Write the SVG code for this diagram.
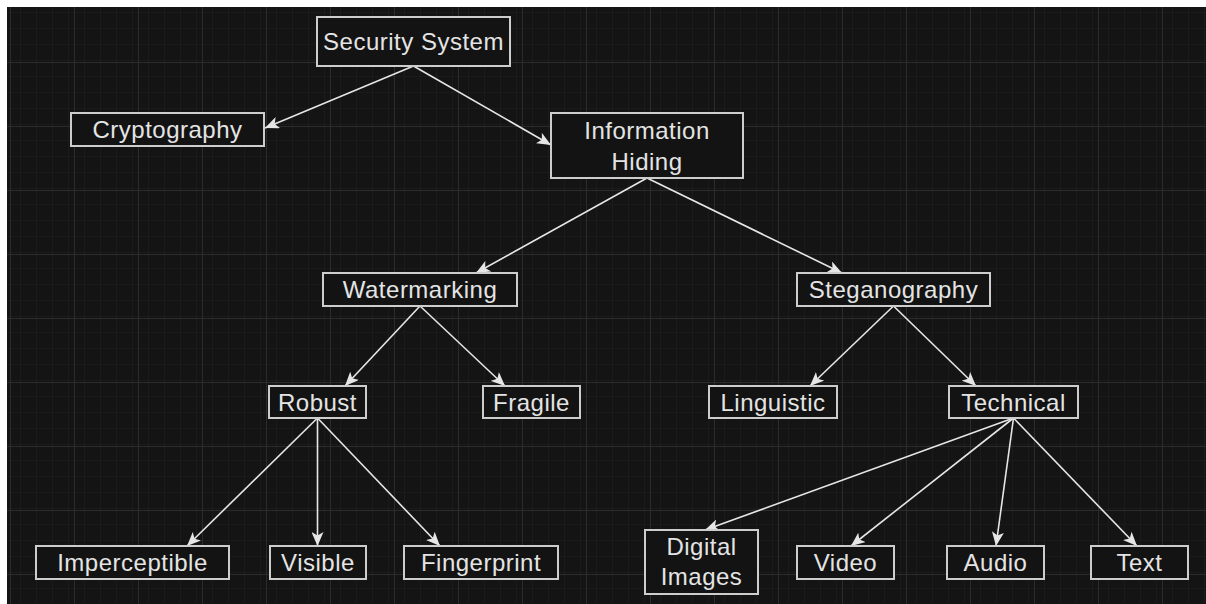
<svg xmlns="http://www.w3.org/2000/svg" width="1206" height="604" viewBox="0 0 1206 604">
<style>
.box{fill:#131313;stroke:#cdcdcd;stroke-width:2}
.lbl{font-family:"Liberation Sans",Arial,sans-serif;font-size:24px;letter-spacing:0.5px;fill:#e4e4e4;text-anchor:middle}
.edge{stroke:#e6e6e6;stroke-width:1.6;fill:none;marker-end:url(#arr)}
</style>
<defs>
<pattern id="minor" x="10" y="-2" width="16" height="16" patternUnits="userSpaceOnUse">
<path d="M0,0 V16 M0,0 H16" stroke="#1f1f1f" stroke-width="1.2" fill="none"/>
</pattern>
<pattern id="major" x="10" y="-2" width="64" height="64" patternUnits="userSpaceOnUse">
<rect width="64" height="64" fill="url(#minor)"/>
<path d="M0,0 V64 M0,0 H64" stroke="#323232" stroke-width="1.5" fill="none"/>
</pattern>
<marker id="arr" viewBox="0 0 14 12" refX="14" refY="6" markerWidth="14" markerHeight="12" markerUnits="userSpaceOnUse" orient="auto">
<path d="M0,0 L14,6 L0,12 L3.5,6 Z" fill="#e6e6e6"/>
</marker>
</defs>
<rect width="1206" height="604" fill="#ffffff"/>
<rect x="7" y="7" width="1199" height="597" fill="#141414"/>
<rect x="7" y="7" width="1199" height="597" fill="url(#major)"/>
<g id="connectors">
<line class="edge" x1="413.5" y1="66" x2="265" y2="128"/>
<line class="edge" x1="413.5" y1="66" x2="551" y2="145"/>
<line class="edge" x1="647" y1="178" x2="476" y2="273"/>
<line class="edge" x1="647" y1="178" x2="842" y2="273"/>
<line class="edge" x1="420" y1="306" x2="345" y2="386"/>
<line class="edge" x1="420" y1="306" x2="505" y2="386"/>
<line class="edge" x1="893.5" y1="306" x2="810" y2="386"/>
<line class="edge" x1="893.5" y1="306" x2="976" y2="386"/>
<line class="edge" x1="317.5" y1="418" x2="187" y2="546"/>
<line class="edge" x1="317.5" y1="418" x2="317.5" y2="546"/>
<line class="edge" x1="317.5" y1="418" x2="440" y2="546"/>
<line class="edge" x1="1013.5" y1="418" x2="705" y2="530"/>
<line class="edge" x1="1013.5" y1="418" x2="851" y2="546"/>
<line class="edge" x1="1013.5" y1="418" x2="996" y2="546"/>
<line class="edge" x1="1013.5" y1="418" x2="1137" y2="546"/>
</g>
<g id="node-security-system"><rect class="box" x="317" y="17" width="193" height="49"/><text class="lbl" x="413.5" y="50">Security System</text></g>
<g id="node-cryptography"><rect class="box" x="71" y="113" width="193" height="33"/><text class="lbl" x="167.5" y="137.5">Cryptography</text></g>
<g id="node-information-hiding"><rect class="box" x="551" y="113" width="192" height="65"/><text class="lbl" x="647" y="138.5">Information</text><text class="lbl" x="647" y="170">Hiding</text></g>
<g id="node-watermarking"><rect class="box" x="323" y="273" width="194" height="33"/><text class="lbl" x="420" y="297.5">Watermarking</text></g>
<g id="node-steganography"><rect class="box" x="797" y="273" width="193" height="33"/><text class="lbl" x="893.5" y="297.5">Steganography</text></g>
<g id="node-robust"><rect class="box" x="269" y="386" width="97" height="32"/><text class="lbl" x="317.5" y="410.5">Robust</text></g>
<g id="node-fragile"><rect class="box" x="483" y="386" width="97" height="32"/><text class="lbl" x="531.5" y="410.5">Fragile</text></g>
<g id="node-linguistic"><rect class="box" x="709" y="386" width="128" height="32"/><text class="lbl" x="773" y="410.5">Linguistic</text></g>
<g id="node-technical"><rect class="box" x="949" y="386" width="129" height="32"/><text class="lbl" x="1013.5" y="410.5">Technical</text></g>
<g id="node-imperceptible"><rect class="box" x="36" y="546" width="193" height="33"/><text class="lbl" x="132.5" y="570.5">Imperceptible</text></g>
<g id="node-visible"><rect class="box" x="270" y="546" width="96" height="33"/><text class="lbl" x="318" y="570.5">Visible</text></g>
<g id="node-fingerprint"><rect class="box" x="404" y="546" width="154" height="33"/><text class="lbl" x="481" y="570.5">Fingerprint</text></g>
<g id="node-digital-images"><rect class="box" x="645" y="530" width="113" height="64"/><text class="lbl" x="701.5" y="554.5">Digital</text><text class="lbl" x="701.5" y="584.5">Images</text></g>
<g id="node-video"><rect class="box" x="797" y="546" width="97" height="33"/><text class="lbl" x="845.5" y="570.5">Video</text></g>
<g id="node-audio"><rect class="box" x="947" y="546" width="97" height="33"/><text class="lbl" x="995.5" y="570.5">Audio</text></g>
<g id="node-text"><rect class="box" x="1091" y="546" width="97" height="33"/><text class="lbl" x="1139.5" y="570.5">Text</text></g>
</svg>
